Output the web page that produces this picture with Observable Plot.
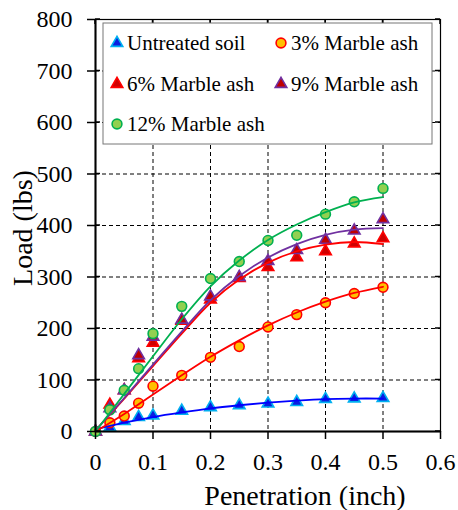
<!DOCTYPE html>
<html><head><meta charset="utf-8">
<script src="https://cdn.jsdelivr.net/npm/d3@7"></script>
<script src="https://cdn.jsdelivr.net/npm/@observablehq/plot@0.6"></script>
<style>body{margin:0;background:#fff}</style>
</head><body><div id="chart"></div>
<script>
// Measured points
const penetration = [0, 0.025, 0.05, 0.075, 0.1, 0.15, 0.2, 0.25, 0.3, 0.35, 0.4, 0.45, 0.5];
const loadUntreated = [0, 8, 20, 28, 31, 40, 47, 51, 54, 57, 63, 64, 65];
const load3 = [0, 17, 30, 55, 88, 109, 144, 165, 203, 227, 250, 268, 280];
const load6 = [0, 52, 80, 142, 172, 215, 256, 298, 319, 338, 350, 365, 375];
const load9 = [0, 45, 80, 148, 184, 217, 262, 300, 331, 352, 372, 390, 412];
const load12 = [0, 42, 80, 122, 190, 243, 297, 330, 371, 381, 422, 446, 472];
// Trend (fitted) curves
const fitPenetration = [0, 0.05, 0.1, 0.15, 0.2, 0.25, 0.3, 0.35, 0.4, 0.45, 0.5];
const fitUntreated = [4, 17, 28, 37, 45, 51, 56, 60, 63, 64, 64];
const fit3 = [0, 34, 72, 109, 145, 177, 206, 231, 252, 269, 281];
const fit6 = [2, 64, 127, 190, 250, 295, 328, 350, 363, 368, 364];
const fit9 = [2, 65, 130, 194, 255, 302, 338, 364, 382, 392, 395];
const fit12 = [0, 73, 146, 218, 282, 332, 372, 402, 426, 445, 455];

const seriesNames = ["Untreated soil", "3% Marble ash", "6% Marble ash", "9% Marble ash", "12% Marble ash"];
const xTicks = [0, 0.1, 0.2, 0.3, 0.4, 0.5, 0.6];
const yTicks = [0, 100, 200, 300, 400, 500, 600, 700, 800];
const xGrid = [0.1, 0.2, 0.3, 0.4, 0.5];
const yGrid = [100, 200, 300, 400, 500, 600, 700];

const pointSets = [loadUntreated, load3, load6, load9, load12];
const fitSets = [fitUntreated, fit3, fit6, fit9, fit12];
const styles = [
  {symbol: "triangle", fill: "#0a1ee0", stroke: "#00b0f0", line: "#0000ff", r: 4.3},
  {symbol: "circle", fill: "#ffc000", stroke: "#ff0000", line: "#ff0000", r: 4.9},
  {symbol: "triangle", fill: "#d00000", stroke: "#ff0000", line: "#ff0000", r: 4.3},
  {symbol: "triangle", fill: "#c00000", stroke: "#7030a0", line: "#7030a0", r: 4.3},
  {symbol: "circle", fill: "#92d050", stroke: "#00b050", line: "#00b050", r: 4.9}
];

const points = seriesNames.map((name, i) => penetration.map((x, j) => ({name, x, y: pointSets[i][j]})));
const fits = seriesNames.map((name, i) => fitPenetration.map((x, j) => ({name, x, y: fitSets[i][j]})));

const FONT = "'Liberation Serif', 'Times New Roman', serif";

const plot = Plot.plot({
  width: 458, height: 510,
  marginLeft: 95, marginRight: 18, marginTop: 19, marginBottom: 79,
  style: {fontFamily: FONT, fontSize: "24px", background: "white", color: "black", overflow: "visible"},
  x: {domain: [0, 0.6]},
  y: {domain: [0, 800]},
  marks: [
    Plot.gridX(xGrid, {stroke: "black", strokeOpacity: 1, strokeWidth: 1, strokeDasharray: "4,3"}),
    Plot.gridY(yGrid, {stroke: "black", strokeOpacity: 1, strokeWidth: 1, strokeDasharray: "4,3"}),
    ...points.map((d, i) => Plot.dot(d, {x: "x", y: "y", symbol: () => styles[i].symbol, r: styles[i].r,
      fill: styles[i].fill, stroke: styles[i].stroke, strokeWidth: 1.6})),
    ...fits.map((d, i) => Plot.line(d, {x: "x", y: "y", stroke: styles[i].line, strokeWidth: 1.8, curve: "catmull-rom"})),
    Plot.frame({stroke: "black", strokeWidth: 1.2}),
    Plot.ruleX([0], {stroke: "black", strokeWidth: 2}),
    Plot.ruleY([0], {stroke: "black", strokeWidth: 2}),
    Plot.axisX(xTicks, {tickSize: 8, tickPadding: 13, strokeWidth: 1.5, label: null,
      tickFormat: d => d === 0 ? "0" : d3.format(".1f")(d)}),
    Plot.axisY(yTicks, {tickSize: 8, tickPadding: 15, strokeWidth: 1.5, label: null})
  ]
});
document.getElementById("chart").appendChild(plot);

// Inner ticks, axis titles and the legend, placed through the plot's scales
const svg = d3.select(plot);
const sx = plot.scale("x"), sy = plot.scale("y");
const X = v => sx.apply(v), Y = v => sy.apply(v);
const g = svg.append("g").attr("stroke", "black").attr("stroke-width", 1.5);
yTicks.forEach(v => {
  g.append("line").attr("x1", X(0)).attr("x2", X(0) + 5).attr("y1", Y(v)).attr("y2", Y(v));
  g.append("line").attr("x1", X(0.6)).attr("x2", X(0.6) - 5).attr("y1", Y(v)).attr("y2", Y(v));
});
xTicks.forEach(v => {
  g.append("line").attr("x1", X(v)).attr("x2", X(v)).attr("y1", Y(800)).attr("y2", Y(800) + 5);
});

svg.append("text").attr("x", 305).attr("y", 505).attr("text-anchor", "middle")
  .style("font-family", FONT).style("font-size", "28px").attr("fill", "black").text("Penetration (inch)");
svg.append("text").attr("transform", "translate(32,228) rotate(-90)").attr("text-anchor", "middle")
  .style("font-family", FONT).style("font-size", "28px").attr("fill", "black").text("Load (lbs)");

const leg = svg.append("g");
leg.append("rect").attr("x", 103).attr("y", 23).attr("width", 329).attr("height", 121)
  .attr("fill", "white").attr("stroke", "#777").attr("stroke-width", 1);
const legPos = [[117, 43], [281, 43], [117, 84], [281, 84], [117, 124]];
const symMap = {triangle: d3.symbolTriangle, circle: d3.symbolCircle};
seriesNames.forEach((name, i) => {
  const [lx, ly] = legPos[i];
  const s = styles[i];
  leg.append("path")
    .attr("d", d3.symbol(symMap[s.symbol], Math.PI * s.r * s.r)())
    .attr("transform", `translate(${lx},${ly})`)
    .attr("fill", s.fill).attr("stroke", s.stroke).attr("stroke-width", 1.6);
  leg.append("text").attr("x", lx + 10).attr("y", ly + 7).attr("text-anchor", "start")
    .style("font-family", FONT).style("font-size", "21px").attr("fill", "black").text(name);
});
</script></body></html>
